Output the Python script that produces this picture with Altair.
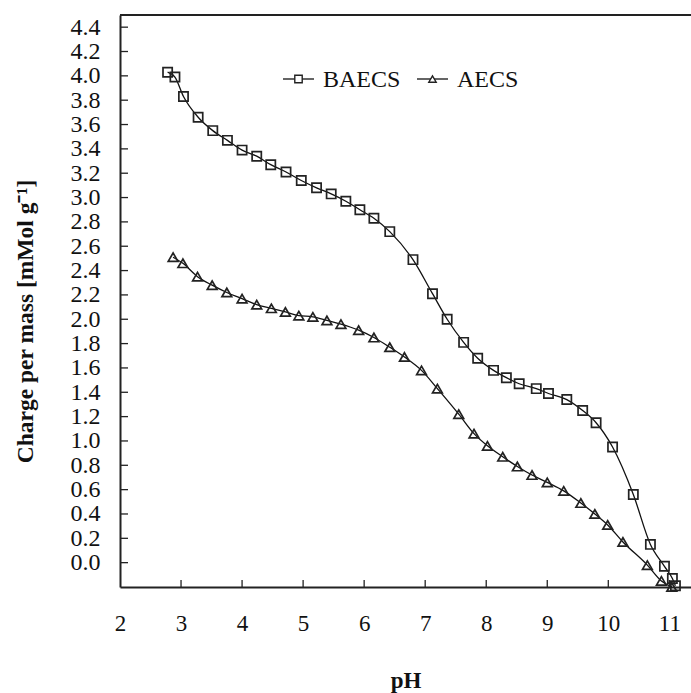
import altair as alt
import pandas as pd

# ---- data ----
baecs_ph = [2.78, 2.90, 3.04, 3.28, 3.52, 3.76, 4.00, 4.24, 4.47, 4.72, 4.97, 5.22,
            5.46, 5.70, 5.93, 6.16, 6.42, 6.80, 7.12, 7.36, 7.63, 7.86, 8.12, 8.33,
            8.54, 8.82, 9.02, 9.32, 9.58, 9.80, 10.07, 10.41, 10.69, 10.92, 11.05, 11.10]
baecs_q = [4.03, 3.99, 3.83, 3.66, 3.55, 3.47, 3.39, 3.34, 3.27, 3.21, 3.14, 3.08,
           3.03, 2.97, 2.90, 2.83, 2.72, 2.49, 2.21, 2.00, 1.81, 1.68, 1.58, 1.52,
           1.47, 1.43, 1.39, 1.34, 1.25, 1.15, 0.95, 0.56, 0.15, -0.03, -0.13, -0.19]

aecs_ph = [2.87, 3.03, 3.27, 3.51, 3.75, 4.00, 4.24, 4.48, 4.71, 4.93, 5.16, 5.39,
           5.62, 5.91, 6.16, 6.42, 6.66, 6.94, 7.20, 7.55, 7.80, 8.02, 8.27, 8.51,
           8.75, 9.00, 9.27, 9.55, 9.78, 9.99, 10.24, 10.64, 10.87, 11.04]
aecs_q = [2.51, 2.46, 2.35, 2.28, 2.22, 2.17, 2.12, 2.09, 2.06, 2.03, 2.02, 1.99,
          1.96, 1.91, 1.85, 1.77, 1.69, 1.58, 1.43, 1.22, 1.06, 0.96, 0.87, 0.79,
          0.72, 0.66, 0.59, 0.49, 0.40, 0.31, 0.17, -0.02, -0.15, -0.20]

series_names = ["BAECS", "AECS"]
x_ticks = [2, 3, 4, 5, 6, 7, 8, 9, 10, 11]
y_ticks = [round(0.2 * i, 1) for i in range(23)]

# ---- tables ----
df_b = pd.DataFrame({"pH": baecs_ph, "charge": baecs_q, "series": series_names[0]})
df_a = pd.DataFrame({"pH": aecs_ph, "charge": aecs_q, "series": series_names[1]})
df_xt = pd.DataFrame({"pH": x_ticks[1:]})
df_yt = pd.DataFrame({"charge": y_ticks})

W, H = 571, 572
FONT = "Liberation Serif"

xscale = alt.Scale(domain=[2, 11.355], nice=False, zero=False)
yscale = alt.Scale(domain=[-0.2, 4.5], nice=False, zero=False)

xaxis = alt.Axis(values=x_ticks, format="d", tickSize=0, labelPadding=25,
                 labelFontSize=23, labelFont=FONT, labelColor="#111",
                 domainColor="#222", domainWidth=2, grid=False,
                 title="pH", titleFont=FONT, titleFontSize=23, titleFontWeight="bold",
                 titleColor="#111", titleX=W / 2, titleY=93, titleBaseline="middle",
                 labelFlush=False, labelOverlap=False)
yaxis = alt.Axis(values=y_ticks, format=".1f", tickSize=0, labelPadding=20,
                 labelFontSize=24, labelFont=FONT, labelColor="#111",
                 domainColor="#222", domainWidth=2, grid=False,
                 title="Charge per mass [mMol g⁻¹]", titleFont=FONT, titleFontSize=23.5,
                 titleFontWeight="bold", titleColor="#111", titleAngle=270,
                 titleX=-95, titleY=306, titleAlign="center", titleBaseline="middle",
                 labelFlush=False, labelOverlap=False)

X = alt.X("pH:Q", scale=xscale, axis=xaxis)
Y = alt.Y("charge:Q", scale=yscale, axis=yaxis)


def curve(df, shape, size):
    line = alt.Chart(df).mark_line(interpolate="monotone", color="#111",
                                   strokeWidth=1.3).encode(x=X, y=Y)
    pts = alt.Chart(df).mark_point(shape=shape, size=size, filled=False,
                                   color="#222", strokeWidth=1.7,
                                   opacity=1).encode(x=X, y=Y)
    return line + pts


xt = alt.Chart(df_xt).mark_rule(color="#222", strokeWidth=1.3).encode(
    x=X, y=alt.value(H), y2=alt.value(H - 7))
yt = alt.Chart(df_yt).mark_rule(color="#222", strokeWidth=1.3).encode(
    y=Y, x=alt.value(0), x2=alt.value(8))
top = alt.Chart(df_xt).mark_rule(color="#222", strokeWidth=2).encode(
    x=alt.value(0), x2=alt.value(W), y=alt.value(0))

# legend (drawn manually: line through marker)
LY = 64
def legend_entry(name, shape, x0):
    base = alt.Chart(pd.DataFrame({"label": [name]}))
    r = base.mark_rule(color="#111", strokeWidth=1.3).encode(
        x=alt.value(x0), x2=alt.value(x0 + 31), y=alt.value(LY))
    p = base.mark_point(shape=shape, size=55, filled=True, fill="white",
                        stroke="#222", strokeWidth=1.4, opacity=1).encode(
        x=alt.value(x0 + 15.5), y=alt.value(LY))
    t = base.mark_text(align="left", baseline="middle", font=FONT, fontSize=24,
                       color="#111").encode(
        x=alt.value(x0 + 40), y=alt.value(LY + 1), text="label:N")
    return r + p + t

chart = alt.layer(
    top, xt, yt,
    curve(df_b, "square", 85),
    curve(df_a, "triangle-up", 95),
    legend_entry(series_names[0], "square", 163),
    legend_entry(series_names[1], "triangle-up", 297),
).properties(
    width=W, height=H,
    autosize=alt.AutoSizeParams(type="none"),
    padding={"left": 120, "top": 15, "right": 0, "bottom": 106},
    background="white",
).configure_view(stroke=None)

chart.save("out.html", embed_options={"renderer": "svg", "actions": False})
